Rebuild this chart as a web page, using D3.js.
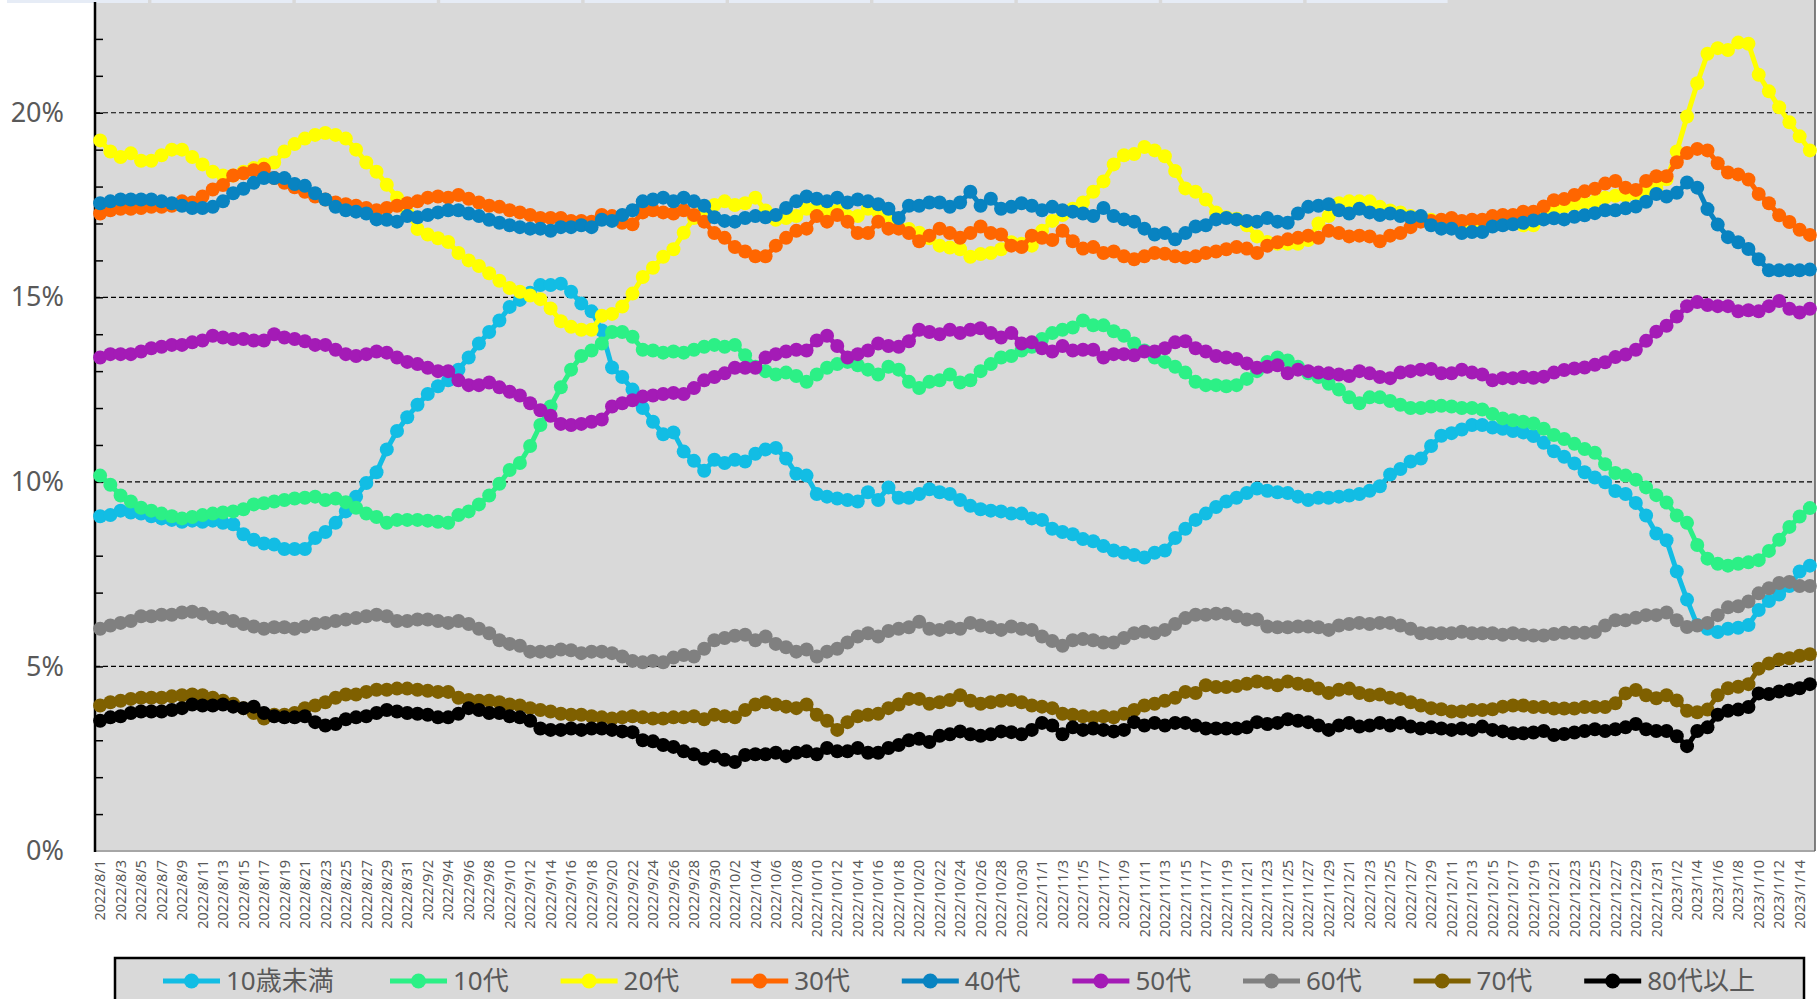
<!DOCTYPE html>
<html>
<head>
<meta charset="utf-8">
<script src="https://cdn.jsdelivr.net/npm/d3@7"></script>
<style>
  body { margin: 0; background: #fff; }
  svg { display: block; font-family: "Noto Sans", "Noto Sans CJK JP", sans-serif; }
</style>
</head>
<body>
<div id="chart"></div>
<script>
// categories: one point per day, 2022/8/1 .. 2023/1/15
const dates = d3.timeDay.range(new Date(2022, 7, 1), new Date(2023, 0, 16));
const seriesNames = ["10歳未満", "10代", "20代", "30代", "40代", "50代", "60代", "70代", "80代以上"];
const seriesColors = ["#12bde4", "#2cf086", "#ffff00", "#ff6600", "#0883c1", "#a41bb6", "#808080", "#7f6000", "#000000"];
const yTicks = [0, 5, 10, 15, 20];

// shares in %
const under10 = [9.07, 9.1, 9.22, 9.17, 9.14, 9.07, 9.01, 8.97, 8.92, 8.95, 8.92, 8.95, 8.89, 8.85, 8.58, 8.43, 8.33, 8.3, 8.18, 8.18, 8.18, 8.48, 8.64, 8.89, 9.2, 9.6, 9.97, 10.26,
  10.88, 11.38, 11.75, 12.09, 12.38, 12.59, 12.75, 13.04, 13.37, 13.75, 14.06, 14.37, 14.74, 14.93, 15.12, 15.33, 15.33, 15.37, 15.15, 14.83, 14.62, 14.1, 13.1, 12.84, 12.5, 12.0, 11.63, 11.29,
  11.34, 10.82, 10.57, 10.3, 10.6, 10.51, 10.6, 10.55, 10.76, 10.88, 10.92, 10.63, 10.22, 10.17, 9.67, 9.6, 9.55, 9.51, 9.47, 9.72, 9.51, 9.85, 9.57, 9.57, 9.67, 9.8, 9.72, 9.67,
  9.51, 9.35, 9.26, 9.22, 9.2, 9.14, 9.14, 9.01, 8.97, 8.73, 8.64, 8.58, 8.45, 8.39, 8.26, 8.14, 8.08, 8.02, 7.95, 8.08, 8.14, 8.48, 8.73, 8.97, 9.14, 9.32, 9.47, 9.57,
  9.7, 9.82, 9.76, 9.72, 9.7, 9.6, 9.51, 9.57, 9.57, 9.6, 9.63, 9.67, 9.76, 9.88, 10.2, 10.35, 10.55, 10.63, 10.97, 11.25, 11.32, 11.42, 11.54, 11.54, 11.47, 11.44, 11.38, 11.34,
  11.24, 11.06, 10.83, 10.68, 10.5, 10.26, 10.12, 9.99, 9.75, 9.67, 9.43, 9.09, 8.6, 8.42, 7.57, 6.81, 6.12, 6.02, 5.93, 6.02, 6.05, 6.12, 6.53, 6.77, 6.95, 7.18, 7.57, 7.73];

const age10s = [10.17, 9.92, 9.63, 9.47, 9.3, 9.22, 9.14, 9.07, 9.01, 9.05, 9.1, 9.14, 9.17, 9.2, 9.26, 9.39, 9.42, 9.47, 9.51, 9.55, 9.57, 9.6, 9.51, 9.55, 9.45, 9.3, 9.14, 9.05,
  8.89, 8.97, 8.97, 8.97, 8.95, 8.92, 8.89, 9.1, 9.2, 9.39, 9.63, 9.95, 10.32, 10.51, 10.97, 11.54, 12.04, 12.56, 13.04, 13.41, 13.56, 13.75, 14.06, 14.06, 13.93, 13.58, 13.56, 13.5,
  13.53, 13.5, 13.58, 13.66, 13.71, 13.66, 13.71, 13.43, 13.12, 13.0, 12.91, 12.96, 12.87, 12.71, 12.91, 13.09, 13.19, 13.25, 13.16, 13.04, 12.91, 13.12, 13.04, 12.71, 12.54, 12.71, 12.75, 12.91,
  12.69, 12.75, 13.0, 13.19, 13.37, 13.41, 13.56, 13.66, 13.87, 14.03, 14.12, 14.18, 14.37, 14.24, 14.24, 14.08, 13.96, 13.75, 13.56, 13.37, 13.25, 13.12, 12.96, 12.71, 12.62, 12.62, 12.59, 12.62,
  12.79, 13.0, 13.25, 13.37, 13.29, 13.12, 12.94, 12.84, 12.66, 12.5, 12.29, 12.13, 12.29, 12.29, 12.19, 12.09, 12.0, 12.0, 12.04, 12.06, 12.04, 12.0, 12.0, 11.96, 11.84, 11.72, 11.67, 11.63,
  11.58, 11.44, 11.27, 11.16, 11.03, 10.89, 10.79, 10.48, 10.24, 10.17, 10.06, 9.85, 9.64, 9.44, 9.09, 8.89, 8.29, 7.92, 7.78, 7.73, 7.78, 7.82, 7.88, 8.13, 8.43, 8.78, 9.06, 9.29];

const age20s = [19.25, 18.95, 18.8, 18.9, 18.7, 18.7, 18.85, 19.0, 19.0, 18.8, 18.6, 18.4, 18.3, 18.3, 18.4, 18.5, 18.6, 18.65, 18.95, 19.15, 19.3, 19.4, 19.45, 19.4, 19.3, 19.0, 18.65, 18.4,
  18.05, 17.7, 17.3, 16.85, 16.7, 16.6, 16.5, 16.2, 16.0, 15.85, 15.65, 15.45, 15.25, 15.15, 15.05, 14.95, 14.7, 14.35, 14.2, 14.12, 14.12, 14.5, 14.55, 14.75, 15.1, 15.55, 15.8, 16.1,
  16.3, 16.75, 17.15, 17.4, 17.5, 17.6, 17.5, 17.55, 17.7, 17.35, 17.1, 17.15, 17.2, 17.4, 17.45, 17.3, 17.35, 17.2, 17.2, 17.4, 17.3, 17.2, 16.9, 16.85, 16.75, 16.6, 16.4, 16.35,
  16.3, 16.1, 16.17, 16.2, 16.3, 16.49, 16.45, 16.4, 16.8, 17.07, 17.23, 17.4, 17.57, 17.86, 18.14, 18.6, 18.85, 18.88, 19.07, 18.98, 18.82, 18.42, 17.95, 17.86, 17.65, 17.3, 17.17, 17.13,
  16.95, 16.65, 16.5, 16.45, 16.45, 16.45, 16.55, 17.0, 17.2, 17.55, 17.6, 17.6, 17.6, 17.45, 17.35, 17.3, 17.2, 17.15, 17.1, 17.05, 17.0, 16.95, 16.95, 16.9, 16.95, 17.0, 17.0, 16.95,
  16.95, 17.2, 17.35, 17.45, 17.5, 17.55, 17.6, 17.7, 17.75, 17.75, 17.8, 17.85, 17.95, 18.2, 18.95, 19.9, 20.8, 21.6, 21.75, 21.7, 21.9, 21.87, 21.03, 20.58, 20.15, 19.74, 19.36, 18.98];

const age30s = [17.27, 17.36, 17.4, 17.4, 17.42, 17.45, 17.45, 17.48, 17.6, 17.57, 17.73, 17.92, 18.04, 18.3, 18.36, 18.44, 18.48, 18.23, 18.1, 17.98, 17.86, 17.73, 17.65, 17.57, 17.52, 17.48, 17.42, 17.36,
  17.42, 17.48, 17.55, 17.6, 17.7, 17.73, 17.7, 17.77, 17.67, 17.57, 17.48, 17.45, 17.36, 17.3, 17.23, 17.15, 17.15, 17.15, 17.07, 17.07, 17.05, 17.23, 17.2, 17.02, 16.98, 17.3, 17.36, 17.3,
  17.27, 17.36, 17.23, 17.05, 16.74, 16.61, 16.36, 16.24, 16.11, 16.11, 16.4, 16.61, 16.8, 16.86, 17.2, 17.05, 17.23, 17.05, 16.74, 16.74, 17.05, 16.86, 16.86, 16.74, 16.52, 16.67, 16.86, 16.74,
  16.61, 16.74, 16.92, 16.74, 16.7, 16.4, 16.36, 16.67, 16.61, 16.55, 16.8, 16.52, 16.32, 16.36, 16.2, 16.24, 16.11, 16.03, 16.11, 16.2, 16.18, 16.11, 16.08, 16.11, 16.2, 16.24, 16.3, 16.36,
  16.32, 16.2, 16.4, 16.49, 16.57, 16.61, 16.67, 16.61, 16.8, 16.74, 16.65, 16.67, 16.65, 16.52, 16.67, 16.74, 16.9, 17.05, 17.07, 17.1, 17.15, 17.07, 17.1, 17.1, 17.2, 17.23, 17.23, 17.32,
  17.32, 17.46, 17.63, 17.66, 17.77, 17.87, 17.94, 18.08, 18.15, 17.97, 17.91, 18.15, 18.28, 18.28, 18.66, 18.91, 19.02, 18.98, 18.63, 18.38, 18.33, 18.19, 17.8, 17.55, 17.22, 17.04, 16.83, 16.69];

const age40s = [17.55, 17.6, 17.65, 17.65, 17.65, 17.65, 17.6, 17.55, 17.48, 17.42, 17.42, 17.45, 17.6, 17.82, 17.94, 18.1, 18.23, 18.23, 18.23, 18.07, 18.02, 17.82, 17.65, 17.45, 17.36, 17.32, 17.27, 17.11,
  17.1, 17.05, 17.2, 17.17, 17.23, 17.3, 17.36, 17.36, 17.27, 17.2, 17.1, 17.02, 16.95, 16.9, 16.86, 16.86, 16.8, 16.9, 16.9, 16.95, 16.9, 17.1, 17.07, 17.23, 17.36, 17.6, 17.65, 17.7,
  17.6, 17.7, 17.6, 17.48, 17.17, 17.07, 17.05, 17.15, 17.2, 17.17, 17.23, 17.42, 17.6, 17.73, 17.67, 17.6, 17.7, 17.57, 17.65, 17.6, 17.52, 17.4, 17.15, 17.48, 17.48, 17.57, 17.57, 17.45,
  17.57, 17.86, 17.48, 17.67, 17.4, 17.45, 17.55, 17.48, 17.36, 17.45, 17.36, 17.32, 17.27, 17.2, 17.42, 17.2, 17.11, 17.05, 16.86, 16.7, 16.74, 16.57, 16.74, 16.92, 16.95, 17.11, 17.15, 17.11,
  17.07, 17.05, 17.15, 17.05, 17.02, 17.27, 17.45, 17.48, 17.52, 17.36, 17.27, 17.4, 17.3, 17.23, 17.27, 17.2, 17.17, 17.2, 16.95, 16.86, 16.86, 16.74, 16.77, 16.77, 16.92, 16.95, 16.98, 17.02,
  17.08, 17.11, 17.14, 17.11, 17.18, 17.22, 17.28, 17.36, 17.36, 17.41, 17.46, 17.59, 17.8, 17.73, 17.83, 18.11, 17.97, 17.39, 16.97, 16.63, 16.49, 16.31, 16.03, 15.73, 15.73, 15.73, 15.73, 15.75];

const age50s = [13.37, 13.46, 13.46, 13.46, 13.53, 13.62, 13.66, 13.71, 13.71, 13.78, 13.83, 13.96, 13.91, 13.87, 13.87, 13.83, 13.83, 14.0, 13.91, 13.87, 13.81, 13.71, 13.71, 13.58, 13.46, 13.41, 13.46, 13.53,
  13.5, 13.37, 13.25, 13.19, 13.09, 13.0, 13.0, 12.75, 12.62, 12.62, 12.69, 12.56, 12.44, 12.34, 12.13, 11.94, 11.79, 11.57, 11.54, 11.57, 11.63, 11.69, 12.04, 12.13, 12.21, 12.31, 12.34, 12.38,
  12.41, 12.38, 12.54, 12.75, 12.84, 12.94, 13.09, 13.09, 13.09, 13.37, 13.46, 13.53, 13.58, 13.56, 13.83, 13.96, 13.68, 13.37, 13.46, 13.56, 13.75, 13.68, 13.66, 13.81, 14.12, 14.06, 14.0, 14.12,
  14.03, 14.12, 14.16, 14.03, 13.91, 14.03, 13.75, 13.78, 13.62, 13.53, 13.68, 13.56, 13.58, 13.58, 13.37, 13.46, 13.46, 13.43, 13.53, 13.53, 13.62, 13.78, 13.81, 13.62, 13.53, 13.41, 13.37, 13.33,
  13.21, 13.09, 13.12, 13.16, 12.94, 13.04, 13.0, 12.96, 12.94, 12.91, 12.87, 13.0, 12.94, 12.84, 12.81, 12.96, 13.0, 13.04, 13.06, 12.94, 12.94, 13.04, 12.96, 12.91, 12.75, 12.81, 12.81, 12.84,
  12.82, 12.85, 12.96, 13.03, 13.07, 13.1, 13.17, 13.24, 13.38, 13.45, 13.58, 13.82, 14.07, 14.23, 14.48, 14.76, 14.87, 14.79, 14.76, 14.76, 14.62, 14.65, 14.62, 14.76, 14.9, 14.69, 14.59, 14.69];

const age60s = [6.02, 6.11, 6.18, 6.23, 6.36, 6.36, 6.4, 6.4, 6.46, 6.48, 6.43, 6.33, 6.31, 6.23, 6.15, 6.08, 6.02, 6.06, 6.06, 6.02, 6.08, 6.15, 6.18, 6.23, 6.27, 6.31, 6.36, 6.4,
  6.36, 6.23, 6.23, 6.27, 6.27, 6.23, 6.18, 6.23, 6.15, 6.02, 5.9, 5.71, 5.61, 5.56, 5.4, 5.4, 5.4, 5.46, 5.44, 5.36, 5.4, 5.4, 5.36, 5.27, 5.15, 5.11, 5.15, 5.11,
  5.24, 5.31, 5.27, 5.48, 5.71, 5.77, 5.83, 5.86, 5.71, 5.81, 5.61, 5.52, 5.4, 5.46, 5.27, 5.4, 5.48, 5.65, 5.81, 5.9, 5.81, 5.96, 6.02, 6.06, 6.21, 6.02, 5.99, 6.06,
  6.02, 6.18, 6.11, 6.06, 5.99, 6.08, 6.02, 5.99, 5.81, 5.69, 5.56, 5.71, 5.74, 5.71, 5.65, 5.65, 5.77, 5.9, 5.94, 5.9, 5.99, 6.15, 6.31, 6.4, 6.4, 6.43, 6.43, 6.36,
  6.27, 6.27, 6.08, 6.06, 6.06, 6.08, 6.08, 6.06, 5.99, 6.11, 6.15, 6.18, 6.15, 6.18, 6.18, 6.11, 6.02, 5.9, 5.9, 5.9, 5.9, 5.94, 5.9, 5.9, 5.9, 5.86, 5.9, 5.86,
  5.84, 5.84, 5.88, 5.91, 5.91, 5.91, 5.93, 6.11, 6.25, 6.25, 6.32, 6.39, 6.39, 6.46, 6.25, 6.07, 6.11, 6.18, 6.39, 6.6, 6.63, 6.76, 6.98, 7.12, 7.26, 7.29, 7.18, 7.18];

const age70s = [3.94, 4.03, 4.07, 4.12, 4.15, 4.15, 4.15, 4.19, 4.22, 4.24, 4.22, 4.15, 4.07, 3.99, 3.87, 3.74, 3.59, 3.69, 3.69, 3.74, 3.87, 3.94, 4.03, 4.15, 4.24, 4.24, 4.31, 4.37,
  4.37, 4.4, 4.4, 4.37, 4.34, 4.31, 4.31, 4.15, 4.09, 4.07, 4.07, 4.03, 3.97, 3.94, 3.87, 3.82, 3.78, 3.72, 3.69, 3.69, 3.65, 3.62, 3.59, 3.62, 3.65, 3.62, 3.59, 3.59,
  3.62, 3.62, 3.65, 3.57, 3.69, 3.65, 3.62, 3.82, 3.97, 4.03, 3.97, 3.91, 3.87, 3.97, 3.69, 3.53, 3.28, 3.49, 3.65, 3.69, 3.72, 3.87, 3.97, 4.12, 4.12, 3.99, 4.03, 4.09,
  4.22, 4.07, 3.99, 4.03, 4.07, 4.09, 4.03, 3.94, 3.91, 3.87, 3.72, 3.69, 3.65, 3.62, 3.65, 3.62, 3.72, 3.82, 3.94, 3.99, 4.07, 4.15, 4.31, 4.28, 4.49, 4.44, 4.44, 4.47,
  4.53, 4.59, 4.56, 4.49, 4.59, 4.53, 4.49, 4.4, 4.28, 4.37, 4.4, 4.28, 4.22, 4.24, 4.15, 4.12, 4.03, 3.94, 3.87, 3.84, 3.78, 3.78, 3.82, 3.82, 3.84, 3.91, 3.94, 3.94,
  3.9, 3.9, 3.86, 3.86, 3.86, 3.9, 3.9, 3.9, 4.0, 4.27, 4.36, 4.22, 4.14, 4.22, 4.08, 3.8, 3.76, 3.83, 4.22, 4.41, 4.45, 4.52, 4.94, 5.08, 5.19, 5.22, 5.29, 5.33];

const age80plus = [3.53, 3.62, 3.65, 3.74, 3.78, 3.78, 3.78, 3.82, 3.87, 3.97, 3.94, 3.94, 3.97, 3.91, 3.87, 3.91, 3.74, 3.65, 3.62, 3.62, 3.65, 3.49, 3.4, 3.44, 3.57, 3.62, 3.65, 3.74,
  3.82, 3.78, 3.74, 3.72, 3.69, 3.62, 3.62, 3.72, 3.87, 3.82, 3.74, 3.74, 3.65, 3.62, 3.53, 3.32, 3.28, 3.28, 3.32, 3.28, 3.32, 3.32, 3.28, 3.24, 3.22, 3.0, 2.97, 2.87,
  2.82, 2.7, 2.62, 2.5, 2.57, 2.47, 2.41, 2.6, 2.62, 2.62, 2.66, 2.57, 2.66, 2.7, 2.62, 2.79, 2.7, 2.7, 2.79, 2.66, 2.66, 2.79, 2.87, 3.0, 3.04, 2.95, 3.12, 3.16,
  3.24, 3.16, 3.12, 3.16, 3.24, 3.22, 3.16, 3.28, 3.47, 3.4, 3.16, 3.35, 3.28, 3.32, 3.28, 3.24, 3.28, 3.49, 3.4, 3.47, 3.4, 3.47, 3.47, 3.4, 3.32, 3.32, 3.32, 3.32,
  3.35, 3.49, 3.44, 3.47, 3.57, 3.53, 3.49, 3.4, 3.28, 3.4, 3.47, 3.37, 3.4, 3.47, 3.4, 3.47, 3.37, 3.32, 3.35, 3.32, 3.28, 3.32, 3.28, 3.37, 3.28, 3.24, 3.19, 3.19,
  3.21, 3.25, 3.14, 3.17, 3.21, 3.25, 3.3, 3.25, 3.3, 3.35, 3.44, 3.3, 3.25, 3.25, 3.11, 2.84, 3.25, 3.35, 3.69, 3.8, 3.83, 3.9, 4.27, 4.25, 4.32, 4.36, 4.41, 4.52];

const seriesValues = [under10, age10s, age20s, age30s, age40s, age50s, age60s, age70s, age80plus];

const width = 1817, height = 999;
const plot = { left: 95, right: 1815, top: 0, bottom: 851 };
const fmtDate = d3.timeFormat("%Y/%-m/%-d");

const svg = d3.select("#chart").append("svg")
  .attr("width", width)
  .attr("height", height);

svg.append("rect").attr("width", width).attr("height", height).attr("fill", "#fff");

const x = d3.scaleBand()
  .domain(dates.map(fmtDate))
  .range([plot.left, plot.right]);
const xc = d => x(d) + x.bandwidth() / 2;

const y = d3.scaleLinear().domain([0, 23]).range([plot.bottom, 2]);

// plot area
svg.append("rect")
  .attr("x", plot.left).attr("y", plot.top)
  .attr("width", plot.right - plot.left).attr("height", plot.bottom - plot.top)
  .attr("fill", "#d9d9d9");

// sheet header strip behind the chart
svg.append("g").selectAll("rect")
  .data(d3.range(10))
  .enter().append("rect")
  .attr("x", k => 7 + k * 144.4).attr("y", 0)
  .attr("width", 141).attr("height", 3)
  .attr("fill", "#e6ecf6");

// gridlines
svg.append("g").selectAll("line")
  .data(yTicks.filter(v => v > 0))
  .enter().append("line")
  .attr("x1", plot.left).attr("x2", plot.right)
  .attr("y1", d => y(d)).attr("y2", d => y(d))
  .attr("stroke", "#000").attr("stroke-width", 1.2)
  .attr("stroke-dasharray", "5,3");

// minor ticks (inside)
const minorAxis = d3.axisLeft(y).tickValues(d3.range(1, 23)).tickSize(-8).tickFormat("");
svg.append("g")
  .attr("transform", `translate(${plot.left},0)`)
  .call(minorAxis)
  .call(g => g.select(".domain").remove())
  .call(g => g.selectAll("line").attr("stroke", "#000").attr("stroke-width", 1.5));

// y labels
const yAxis = d3.axisLeft(y).tickValues(yTicks).tickSize(0).tickPadding(31).tickFormat(d => d + "%");
svg.append("g")
  .attr("transform", `translate(${plot.left},0)`)
  .call(yAxis)
  .call(g => g.select(".domain").remove())
  .call(g => g.selectAll("text")
    .attr("fill", "#595959")
    .attr("font-size", 27)
    .attr("font-family", "\"Noto Sans\", sans-serif"));

// x axis labels, every other day
const xAxis = d3.axisBottom(x)
  .tickValues(x.domain().filter((d, i) => i % 2 === 0))
  .tickSize(0);
svg.append("g")
  .attr("transform", `translate(0,${plot.bottom})`)
  .call(xAxis)
  .call(g => g.select(".domain").remove())
  .call(g => g.selectAll("text")
    .attr("fill", "#595959")
    .attr("font-size", 14.5)
    .attr("font-family", "\"Noto Sans\", sans-serif")
    .attr("text-anchor", "end")
    .attr("transform", "rotate(-90)")
    .attr("x", -9)
    .attr("y", 0)
    .attr("dy", "0.36em"));

// axis frame
svg.append("line")
  .attr("x1", plot.left).attr("x2", plot.right)
  .attr("y1", plot.bottom).attr("y2", plot.bottom)
  .attr("stroke", "#a6a6a6").attr("stroke-width", 2);
svg.append("line")
  .attr("x1", plot.right).attr("x2", plot.right)
  .attr("y1", 0).attr("y2", plot.bottom)
  .attr("stroke", "#595959").attr("stroke-width", 1.5);
svg.append("line")
  .attr("x1", plot.left).attr("x2", plot.left)
  .attr("y1", 2).attr("y2", plot.bottom + 1)
  .attr("stroke", "#000").attr("stroke-width", 2.5);

// series
const line = d3.line()
  .x((d, i) => xc(x.domain()[i]))
  .y(d => y(d));

const seriesG = svg.append("g").selectAll("g")
  .data(seriesValues)
  .enter().append("g")
  .attr("fill", (d, i) => seriesColors[i])
  .attr("stroke", (d, i) => seriesColors[i]);

seriesG.append("path")
  .attr("d", d => line(d))
  .attr("fill", "none")
  .attr("stroke-width", 5)
  .attr("stroke-linejoin", "round");

seriesG.selectAll("circle")
  .data(d => d)
  .enter().append("circle")
  .attr("cx", (d, i) => xc(x.domain()[i]))
  .attr("cy", d => y(d))
  .attr("r", 7)
  .attr("stroke", "none");

// legend
const legend = svg.append("g");
legend.append("rect")
  .attr("x", 115).attr("y", 958)
  .attr("width", 1689).attr("height", 60)
  .attr("fill", "#d9d9d9")
  .attr("stroke", "#000").attr("stroke-width", 2.5);

const legendX = i => i === 0 ? 163 : 390 + (i - 1) * 170.6;
const items = legend.selectAll("g.item")
  .data(seriesNames)
  .enter().append("g")
  .attr("class", "item")
  .attr("transform", (d, i) => `translate(${legendX(i)},981)`);

items.append("line")
  .attr("x1", 0).attr("x2", 57)
  .attr("stroke", (d, i) => seriesColors[i])
  .attr("stroke-width", 5);
items.append("circle")
  .attr("cx", 28.5).attr("r", 7.5)
  .attr("fill", (d, i) => seriesColors[i]);
items.append("text")
  .attr("x", 63).attr("dy", "0.36em")
  .attr("fill", "#595959")
  .attr("font-size", 26)
  .text(d => d);
</script>
</body>
</html>
